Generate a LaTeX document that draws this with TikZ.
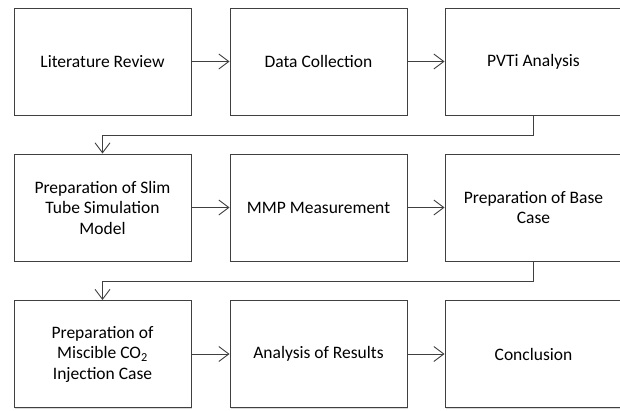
\documentclass[tikz,border=0pt]{standalone}
\usepackage{fontspec}
\setmainfont{Carlito}
\usetikzlibrary{arrows.meta, shadows}

\begin{document}
\begin{tikzpicture}[x=1pt, y=-1pt,
  stepbox/.style={draw=black!75, line width=0.9pt, rectangle, fill=white,
    minimum width=177pt, minimum height=107pt, inner sep=0pt, align=center,
    font=\fontsize{17.5}{20.5}\selectfont,
    drop shadow={opacity=0.3, shadow xshift=1.2pt, shadow yshift=-1.2pt}},
  flow/.style={draw=black!75, line width=0.9pt,
    -{Straight Barb[length=10pt, width=15pt, line width=0.9pt]}}]
\useasboundingbox (0,0) rectangle (620,410);

\node[stepbox] (lit) at (102.5,61.5){Literature Review};
\node[stepbox] (data) at (318.5,61.5){Data Collection};
\node[stepbox] (pvti) at (533.5,61.5){PVTi Analysis};

\node[stepbox] (slim) at (102.5,207.5){Preparation of Slim\\Tube Simulation\\Model};
\node[stepbox] (mmp) at (318.5,207.5){MMP Measurement};
\node[stepbox] (base) at (533.5,207.5){Preparation of Base\\Case};

\node[stepbox] (inj) at (102.5,354){Preparation of\\Miscible CO\textsubscript{2}\\Injection Case};
\node[stepbox] (res) at (318.5,354){Analysis of Results};
\node[stepbox] (conc) at (533.5,354){Conclusion};

\draw[flow] (lit) -- (data);
\draw[flow] (data) -- (pvti);
\draw[flow] (pvti.south) -- ++(0,20) -| (slim.north);

\draw[flow] (slim) -- (mmp);
\draw[flow] (mmp) -- (base);
\draw[flow] (base.south) -- ++(0,20) -| (inj.north);

\draw[flow] (inj) -- (res);
\draw[flow] (res) -- (conc);

\end{tikzpicture}
\end{document}
